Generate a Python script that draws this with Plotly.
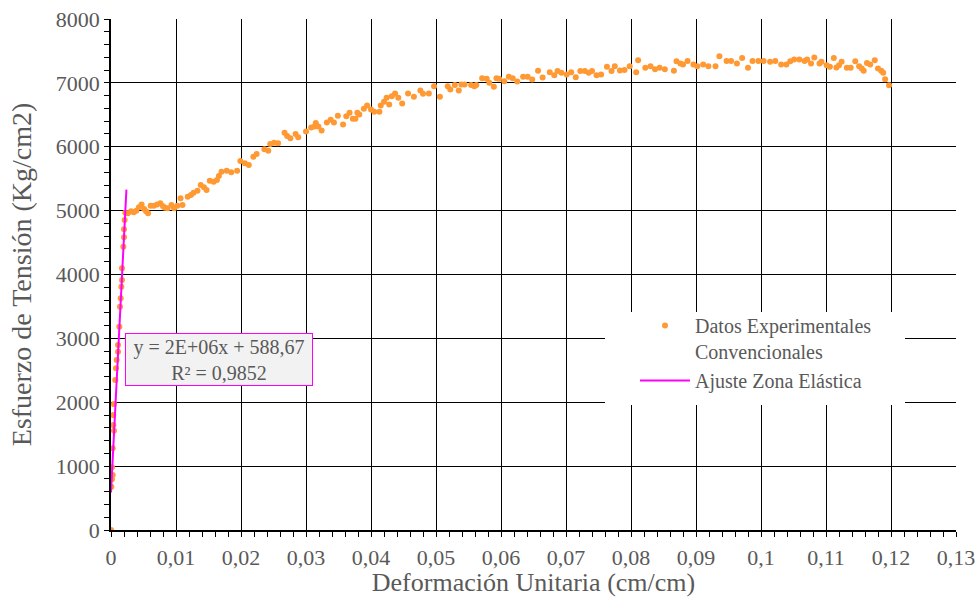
import plotly.graph_objects as go

# Experimental data (strain cm/cm, stress Kg/cm2)
strain = [
    0.0, 0.00005, 0.00015, 0.00026, 0.00015, 0.00026, 0.00036, 0.00046, 0.00036, 0.00046,
    0.00066, 0.00077, 0.00087, 0.00108, 0.00108, 0.00128, 0.00138, 0.00149, 0.00159, 0.00169,
    0.00169, 0.0019, 0.0020, 0.0020, 0.0021, 0.0022,
    0.0026, 0.0031, 0.0035, 0.0039, 0.0043, 0.0047, 0.0051, 0.0054, 0.0057, 0.0061,
    0.0066, 0.0071, 0.0076, 0.0080, 0.0083, 0.0087, 0.0093, 0.0097, 0.0102, 0.0107, 0.0110,
    0.0118, 0.0123, 0.0127, 0.0133, 0.0138, 0.0143, 0.0147, 0.0152, 0.0158, 0.0163,
    0.0166, 0.0170, 0.0178, 0.0185, 0.0194, 0.0199, 0.0206, 0.0212, 0.0219, 0.0224,
    0.0236, 0.0242, 0.0245, 0.0251, 0.0257, 0.0267, 0.0271, 0.0276, 0.0284, 0.0288, 0.0300,
    0.0308, 0.0313, 0.0315, 0.0319, 0.0324, 0.0332, 0.0338, 0.0343, 0.0349, 0.0357,
    0.0362, 0.0367, 0.0372, 0.0376, 0.0379,
    0.0382, 0.0389, 0.0394, 0.0400, 0.0405, 0.0413, 0.0415, 0.0420, 0.0424, 0.0428,
    0.0432, 0.0437, 0.0442, 0.0448, 0.0457, 0.0466, 0.0476, 0.0480, 0.0489, 0.0497,
    0.0506, 0.0518, 0.0522, 0.0529, 0.0535, 0.0539, 0.0544, 0.0554, 0.0559, 0.0562,
    0.0571, 0.0578, 0.0582, 0.0589, 0.0593, 0.0597, 0.0605, 0.0612, 0.0618, 0.0625,
    0.0634, 0.0641, 0.0648, 0.0657, 0.0664, 0.0675, 0.0682, 0.0687, 0.0693, 0.0701,
    0.0708, 0.0715, 0.0722, 0.0729, 0.0735, 0.0740, 0.0747, 0.0754, 0.0763, 0.0770,
    0.0775, 0.0783, 0.0790, 0.0798, 0.0808, 0.0811,
    0.0822, 0.0830, 0.0837, 0.0844, 0.0852, 0.0866, 0.0870, 0.0876, 0.0880, 0.0887,
    0.0896, 0.0902, 0.0911, 0.0919, 0.0930, 0.0936, 0.0947, 0.0954, 0.0963, 0.0971,
    0.0980, 0.0987, 0.0996, 0.1004, 0.1014, 0.1022, 0.1031, 0.1039, 0.1045, 0.1051,
    0.1059, 0.1067, 0.1071, 0.1077, 0.1082, 0.1090, 0.1093, 0.1101, 0.1106, 0.1112,
    0.1116, 0.1120, 0.1124, 0.1132, 0.1138, 0.1145, 0.1151, 0.1155, 0.1158, 0.1163,
    0.1168, 0.1175, 0.1180, 0.1185, 0.1188, 0.1191, 0.1197,
]
stress = [
    0, 678, 793, 861, 981, 1279, 1644, 1555, 1800, 1972,
    2348, 2531, 2661, 2791, 2896, 3183, 3496, 3627, 3809, 3914,
    4097, 4435, 4582, 4708, 4853, 4967,
    4960, 4990, 4975, 5000, 5052, 5094, 5026, 4990, 4960, 5078,
    5078, 5094, 5115, 5068, 5046, 5036, 5088, 5036, 5078, 5193, 5088,
    5219, 5245, 5281, 5312, 5401, 5365, 5323, 5469, 5453, 5479,
    5542, 5609, 5625, 5599, 5625, 5777, 5741, 5714, 5844, 5887,
    5960, 5938, 6043, 6063, 6054, 6220, 6168, 6132, 6199, 6148, 6238,
    6301, 6317, 6370, 6317, 6254, 6380, 6422, 6380, 6485, 6349,
    6479, 6532, 6438, 6438, 6532,
    6506, 6595, 6647, 6584, 6548, 6548, 6647, 6704, 6767, 6662,
    6792, 6834, 6767, 6678, 6834, 6783, 6881, 6830, 6834, 6949,
    6783, 6949, 6897, 6965, 6881, 6975, 6975, 6965, 6949, 6965,
    7074, 7064, 7002, 6939, 7074, 7064, 7027, 7096, 7074, 7022,
    7096, 7096, 7054, 7190, 7085, 7168, 7121, 7184, 7158, 7132,
    7168, 7090, 7184, 7184, 7158, 7184, 7121, 7132, 7252, 7184,
    7262, 7194, 7200, 7262, 7168, 7356,
    7235, 7261, 7214, 7235, 7214, 7188, 7340, 7303, 7288, 7344,
    7288, 7261, 7288, 7261, 7261, 7418, 7344, 7344, 7303, 7391,
    7235, 7344, 7344, 7344, 7329, 7344, 7288, 7288, 7340, 7366,
    7366, 7344, 7366, 7303, 7397, 7303, 7329, 7277, 7251, 7391,
    7241, 7277, 7329, 7235, 7235, 7340, 7261, 7225, 7188, 7313,
    7288, 7355, 7225, 7188, 7157, 7058, 6964,
]

# Linear fit of elastic zone (endpoints of trendline)
fit_x = [0.0, 0.00237]
fit_y = [588.67, 5328.67]

x_tickvals = [0, 0.01, 0.02, 0.03, 0.04, 0.05, 0.06, 0.07, 0.08, 0.09, 0.10, 0.11, 0.12, 0.13]
x_ticktext = ["0", "0,01", "0,02", "0,03", "0,04", "0,05", "0,06", "0,07", "0,08", "0,09",
              "0,1", "0,11", "0,12", "0,13"]
y_tickvals = [0, 1000, 2000, 3000, 4000, 5000, 6000, 7000, 8000]
y_ticktext = ["0", "1000", "2000", "3000", "4000", "5000", "6000", "7000", "8000"]

series_names = ["Datos Experimentales<br>Convencionales", "Ajuste Zona Elástica"]
equation_text = "y = 2E+06x + 588,67<br>R² = 0,9852"

FONT = "Liberation Serif"
GREY = "#595959"

fig = go.Figure()
fig.add_trace(go.Scatter(
    x=strain, y=stress, mode="markers", name=series_names[0],
    marker=dict(color="#FF9933", size=6, line=dict(width=0)),
))
fig.add_trace(go.Scatter(
    x=fit_x, y=fit_y, mode="lines", name=series_names[1],
    line=dict(color="#FF00FF", width=2),
))

# white background region behind legend (covers gridlines, as in original)
fig.add_shape(type="rect", xref="paper", yref="paper",
              x0=(605 - 111) / 845, x1=(905 - 111) / 845,
              y0=(530 - 405) / 511, y1=(530 - 312) / 511,
              fillcolor="white", line=dict(width=0), layer="above")

fig.add_annotation(
    x=0.0166, y=2669, xref="x", yref="y", text=equation_text, showarrow=False,
    font=dict(family=FONT, size=20, color=GREY),
    bgcolor="#F2F2F2", bordercolor="#FF00FF", borderwidth=1, borderpad=2,
    width=182, height=47,
)

axis_common = dict(
    showline=True, linecolor="black", linewidth=1.5, mirror=False,
    showgrid=True, gridcolor="black", gridwidth=1,
    ticks="outside", ticklen=5, tickcolor="black", tickwidth=1,
    tickfont=dict(family=FONT, size=22, color=GREY),
    zeroline=False, automargin=False,
)

fig.update_xaxes(
    range=[0, 0.13], tickmode="array", tickvals=x_tickvals, ticktext=x_ticktext,
    minor=dict(dtick=0.002, ticks="outside", ticklen=5, tickcolor="black", showgrid=False),
    ticklabelstandoff=2,
    title=dict(text="Deformación Unitaria (cm/cm)", font=dict(family=FONT, size=26, color=GREY), standoff=0),
    **axis_common,
)
fig.update_yaxes(
    range=[0, 8000], tickmode="array", tickvals=y_tickvals, ticktext=y_ticktext,
    minor=dict(dtick=200, ticks="outside", ticklen=5, tickcolor="black", showgrid=False),
    title=dict(text="Esfuerzo de Tensión (Kg/cm2)", font=dict(family=FONT, size=28, color=GREY), standoff=16),
    **axis_common,
)

fig.update_layout(
    width=978, height=597,
    margin=dict(l=111, r=22, t=19, b=67),
    plot_bgcolor="white", paper_bgcolor="white",
    font=dict(family=FONT, size=20, color=GREY),
    showlegend=True,
    legend=dict(
        x=(635 - 111) / 845, y=(530 - 306) / 511, xanchor="left", yanchor="top",
        bgcolor="rgba(0,0,0,0)", borderwidth=0, valign="top",
        font=dict(family=FONT, size=20, color=GREY),
        itemwidth=50, tracegroupgap=0,
    ),
)

fig.write_html("out.html")
